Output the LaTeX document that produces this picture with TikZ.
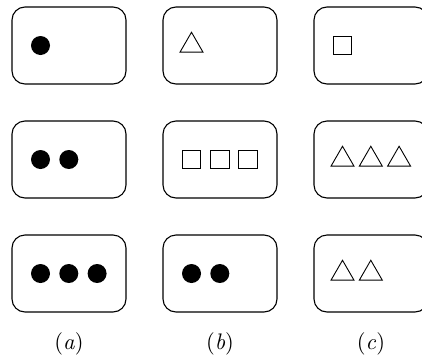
\documentclass[tikz,border=0pt]{standalone}
\usepackage{tikz}
\usetikzlibrary{positioning,shapes.geometric}
\tikzset{
	card/.style={
		rectangle,
		draw,
		rounded corners=13pt,
		line width=1.1pt,
		minimum width=114pt,
		minimum height=77pt,
		inner sep=0pt,
		outer sep=0pt
	},
	dot/.style={
		circle,
		fill=black,
		minimum size=19pt,
		inner sep=0pt
	},
	tri/.style={
		regular polygon,
		regular polygon sides=3,
		draw,
		line width=0.9pt,
		minimum size=26.5pt,
		inner sep=0pt
	},
	sq/.style={
		rectangle,
		draw,
		line width=0.9pt,
		minimum size=18.5pt,
		inner sep=0pt
	}
}

\begin{document}
\begin{tikzpicture}[
	node distance=37pt and 37pt,
	sublabel/.style={font=\normalsize, scale=2.25, transform shape, inner sep=0pt}
	]
	
	\useasboundingbox (0pt,0pt) rectangle (422pt,-362pt);
	
	%--------------------
	% Cards
	%--------------------
	\node[card] (a1) at (69pt,-45.5pt) {};
	\node[card, below=of a1] (a2) {};
	\node[card, below=of a2] (a3) {};
	
	\node[card, right=of a1] (b1) {};
	\node[card, below=of b1] (b2) {};
	\node[card, below=of b2] (b3) {};
	
	\node[card, right=of b1] (c1) {};
	\node[card, below=of c1] (c2) {};
	\node[card, below=of c2] (c3) {};
	
	%--------------------
	% Column (a): dots
	%--------------------
	\node[dot] (a1s1) at ([xshift=28.5pt]a1.west) {};
	
	\node[dot] (a2s1) at ([xshift=28.5pt]a2.west) {};
	\node[dot] (a2s2) at ([xshift=28.3pt]a2s1) {};
	
	\node[dot] (a3s1) at ([xshift=28.5pt]a3.west) {};
	\node[dot] (a3s2) at ([xshift=28.3pt]a3s1) {};
	\node[dot] (a3s3) at ([xshift=28.3pt]a3s2) {};
	
	%--------------------
	% Column (b)
	%--------------------
	\node[tri] (b1s1) at ([xshift=28.5pt]b1.west) {};
	
	\node[sq] (b2s1) at ([xshift=28.5pt]b2.west) {};
	\node[sq] (b2s2) at ([xshift=28.3pt]b2s1) {};
	\node[sq] (b2s3) at ([xshift=28.3pt]b2s2) {};
	
	\node[dot] (b3s1) at ([xshift=28.5pt]b3.west) {};
	\node[dot] (b3s2) at ([xshift=28.3pt]b3s1) {};
	
	%--------------------
	% Column (c)
	%--------------------
	\node[sq] (c1s1) at ([xshift=28.5pt]c1.west) {};
	
	\node[tri] (c2s1) at ([xshift=28.5pt]c2.west) {};
	\node[tri] (c2s2) at ([xshift=28.3pt]c2s1) {};
	\node[tri] (c2s3) at ([xshift=28.3pt]c2s2) {};
	
	\node[tri] (c3s1) at ([xshift=28.5pt]c3.west) {};
	\node[tri] (c3s2) at ([xshift=28.3pt]c3s1) {};
	
	%--------------------
	% Sub-figure labels
	%--------------------
	\node[sublabel] (laba) at ([yshift=-32pt]a3.south) {(\textit{a})};
	\node[sublabel] (labb) at ([yshift=-32pt]b3.south) {(\textit{b})};
	\node[sublabel] (labc) at ([yshift=-32pt]c3.south) {(\textit{c})};
	
\end{tikzpicture}
\end{document}
